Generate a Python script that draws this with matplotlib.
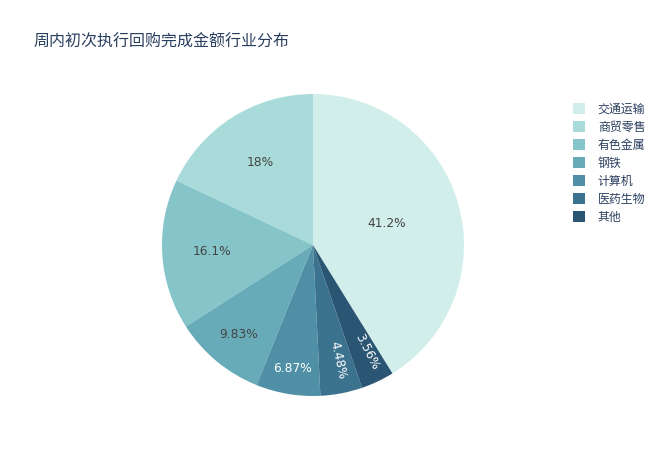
import numpy as np
import matplotlib.pyplot as plt
from matplotlib.patches import Patch

plt.rcParams["font.family"] = ["Noto Sans CJK SC", "DejaVu Sans"]

industries = ["交通运输", "商贸零售", "有色金属", "钢铁", "计算机", "医药生物", "其他"]
shares = [41.2, 18.0, 16.1, 9.83, 6.87, 4.48, 3.56]
pct_labels = ["41.2%", "18%", "16.1%", "9.83%", "6.87%", "4.48%", "3.56%"]
colors = ["#d1eeea", "#a8dbd9", "#85c4c9", "#68abb8", "#4f90a6", "#3b738f", "#2a5674"]
text_colors = ["#444444", "#444444", "#444444", "#444444", "white", "white", "white"]
label_r = [0.51, 0.65, 0.67, 0.77, 0.83, 0.78, 0.79]
radial_text = [False, False, False, False, False, True, True]

fig = plt.figure(figsize=(6.6, 4.72), dpi=100)
cx, cy, r = 313, 245, 151
ax = fig.add_axes([(cx - r) / 660, 1 - (cy + r) / 472, 2 * r / 660, 2 * r / 472])

total = sum(shares)
start = 90 - shares[0] / total * 360
wedges, _ = ax.pie(shares, colors=colors, startangle=start, counterclock=True,
                   wedgeprops=dict(linewidth=0))
ax.set_xlim(-1, 1)
ax.set_ylim(-1, 1)
ax.set_aspect("equal")
ax.axis("off")

for w, lab, tc, lr, rad in zip(wedges, pct_labels, text_colors, label_r, radial_text):
    mid = (w.theta1 + w.theta2) / 2
    if rad:
        mid += 1.5
    x = lr * np.cos(np.radians(mid))
    y = lr * np.sin(np.radians(mid))
    rot = 0
    if rad:
        rot = mid - 360 if mid > 180 else mid
    ax.text(x, y, lab, ha="center", va="center", color=tc, fontsize=8.8,
            rotation=rot, rotation_mode="anchor", family=["DejaVu Sans"])

fig.text(33 / 660, 1 - 42 / 472, "周内初次执行回购完成金额行业分布",
         fontsize=11.5, color="#2a3f5f", ha="left", va="center")

handles = [Patch(facecolor=c, edgecolor="none") for c in colors]
fig.legend(handles, industries, loc="upper left", bbox_to_anchor=(562 / 660, 1 - 92 / 472),
           frameon=False, fontsize=8.6, handlelength=1.0, handleheight=1.0,
           labelspacing=0.42, handletextpad=1.1, labelcolor="#2a3f5f")

fig.savefig("out.png", dpi=100)
